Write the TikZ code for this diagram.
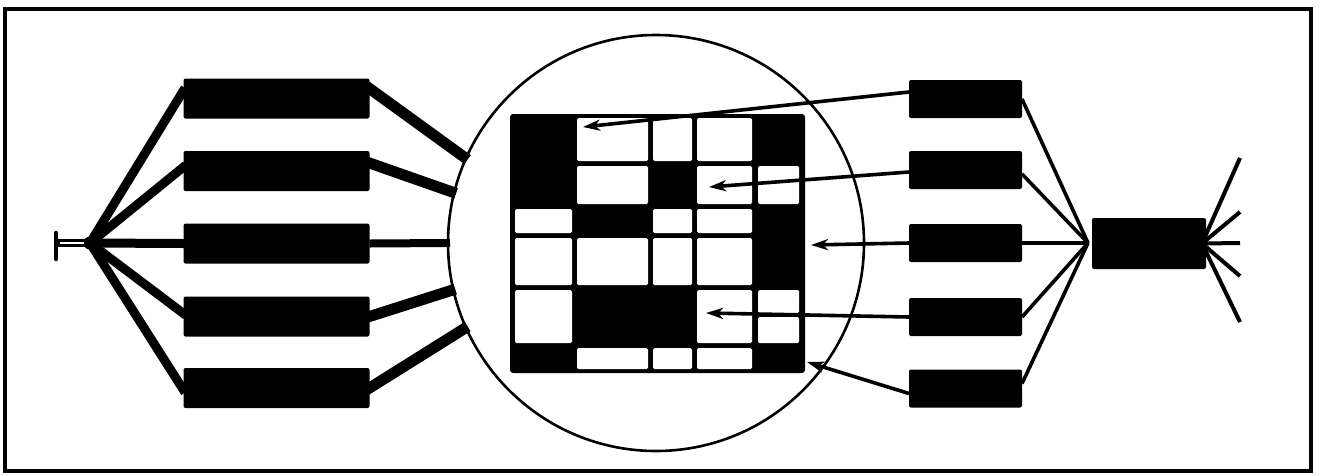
\documentclass[tikz,border=0pt]{standalone}
\usetikzlibrary{arrows.meta,calc}
\pgfdeclarelayer{bg}
\pgfsetlayers{bg,main}
\begin{document}
\begin{tikzpicture}[x=1pt,y=-1pt,
  blk/.style={rectangle,fill=black,rounded corners=2pt,inner sep=0pt,outer sep=0pt},
  lbox/.style={blk,minimum width=186pt,minimum height=40pt},
  rbox/.style={blk,minimum width=113pt,minimum height=38pt},
  fat/.style={line width=11pt,shorten <=-4pt,shorten >=-2pt},
  spoke/.style={line width=9pt,shorten >=-3pt},
  thinline/.style={line width=3.6pt},
  ray/.style={line width=4pt},
  arr/.style={line width=3.6pt,-{Stealth[length=17pt,width=11pt,inset=5pt]}},
  cell/.style={fill=white,rounded corners=1.5pt},
]
\useasboundingbox (0,0) rectangle (1320,475);
\draw[line width=4pt] (5,9) rectangle (1311,471);

% left boxes
\node[lbox] (L1) at (276.5,98.5) {};
\node[lbox] (L2) at (276.5,171) {};
\node[lbox] (L3) at (276.5,243.5) {};
\node[lbox] (L4) at (276.5,316.5) {};
\node[lbox] (L5) at (276.5,388) {};

% circle
\node[circle,draw,line width=2.6pt,minimum size=416pt,inner sep=0pt,outer sep=0pt] (C) at (656,243) {};

% grid
\node[blk,rounded corners=3pt,minimum width=295pt,minimum height=259pt] (G) at (657.5,243.5) {};
\foreach \xa/\xb/\ya/\yb in {
  577/648/118/161, 653/692/118/161, 697/752/118/161,
  577/648/166/204, 697/752/166/204, 758/799/166/204,
  515/572/209/233, 653/692/209/233, 697/752/209/233,
  515/572/238/285, 577/648/238/285, 653/692/238/285, 697/752/238/285,
  515/572/290/343, 697/752/290/343, 758/799/290/313, 758/799/317/343,
  577/648/348/369, 653/692/348/369, 697/752/348/369}
  \fill[cell] (\xa,\ya) rectangle (\xb,\yb);

% right boxes
\node[rbox] (R1) at (965.5,99) {};
\node[rbox] (R2) at (965.5,170) {};
\node[rbox] (R3) at (965.5,243) {};
\node[rbox] (R4) at (965.5,317) {};
\node[rbox] (R5) at (965.5,388.5) {};
\node[blk,minimum width=114pt,minimum height=51pt] (H) at (1149,243.5) {};

\coordinate (hubL) at (90,243);
\coordinate (hubR) at (1088,243);
\coordinate (ray1) at (1240,158);
\coordinate (ray2) at (1240,212);
\coordinate (ray3) at (1240,243);
\coordinate (ray4) at (1240,276);
\coordinate (ray5) at (1240,322);
\coordinate (t1) at (583,127);
\coordinate (t2) at (709,187);
\coordinate (t3) at (811,245);
\coordinate (t4) at (706,313);
\coordinate (t5) at (807,362);
\coordinate (stubA) at (57,243);
\coordinate (stubB) at (60,243);
\coordinate (stubC) at (84,243);
\coordinate (barT) at (56,233);
\coordinate (barB) at (56,259);

\begin{pgfonlayer}{bg}
  \draw[spoke] (hubL) -- ([yshift=8pt]L1.west);
  \draw[spoke] (hubL) -- ([yshift=4pt]L2.west);
  \draw[spoke] (hubL) -- (L3.west);
  \draw[spoke] (hubL) -- ([yshift=3pt]L4.west);
  \draw[spoke] (hubL) -- ([yshift=-2pt]L5.west);
  \fill (hubL) circle (6.5pt);
  \draw[line width=7.5pt] (stubA) -- (hubL);
  \draw[white,line width=2.6pt] (stubB) -- (stubC);
  \draw[line width=4.5pt,line cap=round] (barT) -- (barB);

  \draw[fat] ([yshift=10pt]L1.east) -- (C.156);
  \draw[fat] ([yshift=8pt]L2.east) -- (C.166);
  \draw[line width=8pt,shorten >=-2pt] (L3.east) -- (C.180);
  \draw[fat] (L4.east) -- (C.193);
  \draw[fat] (L5.east) -- (C.204);

  \draw[thinline] (R1.east) -- (hubR);
  \draw[thinline] ([yshift=-4pt]R2.east) -- (hubR);
  \draw[thinline] (R3.east) -- (hubR);
  \draw[thinline] (R4.east) -- (hubR);
  \draw[thinline] ([yshift=5pt]R5.east) -- (hubR);

  \draw[ray] ([xshift=-4pt]H.east) -- (ray1);
  \draw[ray] ([xshift=-4pt]H.east) -- (ray2);
  \draw[ray] ([xshift=-4pt]H.east) -- (ray3);
  \draw[ray] ([xshift=-4pt]H.east) -- (ray4);
  \draw[ray] ([xshift=-4pt]H.east) -- (ray5);
\end{pgfonlayer}

\draw[arr] ([yshift=7pt]R1.west) -- (t1);
\draw[arr] ([yshift=-2pt]R2.west) -- (t2);
\draw[arr] (R3.west) -- (t3);
\draw[arr] (R4.west) -- (t4);
\draw[arr] ([yshift=-5pt]R5.west) -- (t5);
\end{tikzpicture}
\end{document}
